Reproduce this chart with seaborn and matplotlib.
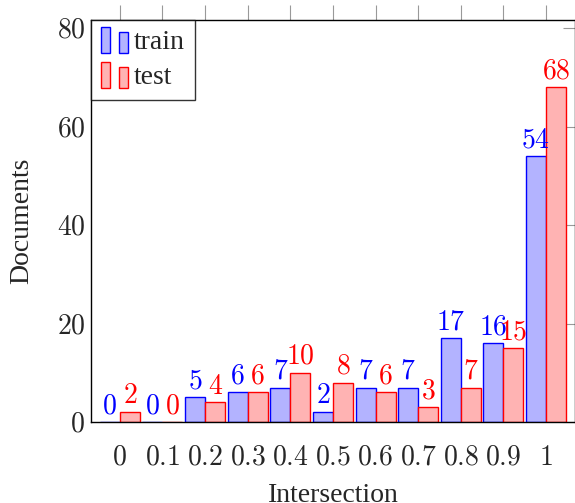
import numpy as np
import pandas as pd
import matplotlib
matplotlib.use('Agg')
import matplotlib.pyplot as plt
import seaborn as sns
from matplotlib.patches import Rectangle
from matplotlib.legend_handler import HandlerBase

bins = ['0', '0.1', '0.2', '0.3', '0.4', '0.5', '0.6', '0.7', '0.8', '0.9', '1']
train = [0, 0, 5, 6, 7, 2, 7, 7, 17, 16, 54]
test = [2, 0, 4, 6, 10, 8, 6, 3, 7, 15, 68]
yticks = [0, 20, 40, 60, 80]

df = pd.DataFrame({
    'bin': bins * 2,
    'docs': train + test,
    'split': ['train'] * len(bins) + ['test'] * len(bins),
})

sns.set_style('white')
plt.rcParams['font.family'] = ['Liberation Serif', 'DejaVu Serif']
plt.rcParams['mathtext.fontset'] = 'cm'

edge = {'train': (0, 0, 1), 'test': (1, 0, 0)}
fill = {'train': (0.7, 0.7, 1), 'test': (1, 0.7, 0.7)}
FS = 20

fig = plt.figure(figsize=(5.75, 5.03), dpi=100)
ax = fig.add_axes([0.158, 0.161, 0.842, 0.799])

sns.barplot(data=df, x='bin', y='docs', hue='split', order=bins,
            hue_order=['train', 'test'], palette=fill, saturation=1,
            width=0.94, errorbar=None, legend=False, ax=ax)

for cont, name in zip(ax.containers, ['train', 'test']):
    for p in cont:
        p.set_edgecolor(edge[name])
        p.set_linewidth(1.0)
    ax.bar_label(cont, labels=[f'${int(v)}$' for v in cont.datavalues],
                 color=edge[name], fontsize=FS, padding=2)

ax.set_xlim(-0.68, 10.68)
ax.set_ylim(0, 81.6)
ax.set_xticks(range(len(bins)))
ax.set_xticklabels([f'${b}$' for b in bins], fontsize=FS)
ax.set_yticks(yticks)
ax.set_yticklabels([f'${t}$' for t in yticks], fontsize=FS)
ax.tick_params(axis='x', direction='out', top=True, length=11, width=0.8,
               color='#999999', pad=6)
ax.tick_params(axis='y', direction='in', right=True, length=9, width=0.8,
               color='#999999', pad=4)

for s in ax.spines.values():
    s.set_color('black')
    s.set_linewidth(1.0)

ax.set_xlabel('Intersection', fontsize=FS, labelpad=9)
ax.set_ylabel('Documents', fontsize=FS, labelpad=16)


class BarIcon(HandlerBase):
    def create_artists(self, legend, orig, xd, yd, w, h, fs, trans):
        fc, ec = orig
        r1 = Rectangle((xd, yd - 0.2 * h), w * 0.33, h * 1.35,
                       facecolor=fc, edgecolor=ec, lw=1, transform=trans)
        r2 = Rectangle((xd + w * 0.67, yd - 0.2 * h), w * 0.33, h * 1.1,
                       facecolor=fc, edgecolor=ec, lw=1, transform=trans)
        return [r1, r2]


handles = [(fill['train'], edge['train']), (fill['test'], edge['test'])]
leg = ax.legend(handles, ['train', 'test'], handler_map={tuple: BarIcon()},
                loc='upper left', bbox_to_anchor=(0, 1), fontsize=FS,
                frameon=True, fancybox=False, edgecolor='black',
                handlelength=1.0, handletextpad=0.2, borderpad=0.35,
                labelspacing=0.35, borderaxespad=0, alignment='left')
leg.get_frame().set_linewidth(1.0)

fig.savefig('out.png', dpi=100)
